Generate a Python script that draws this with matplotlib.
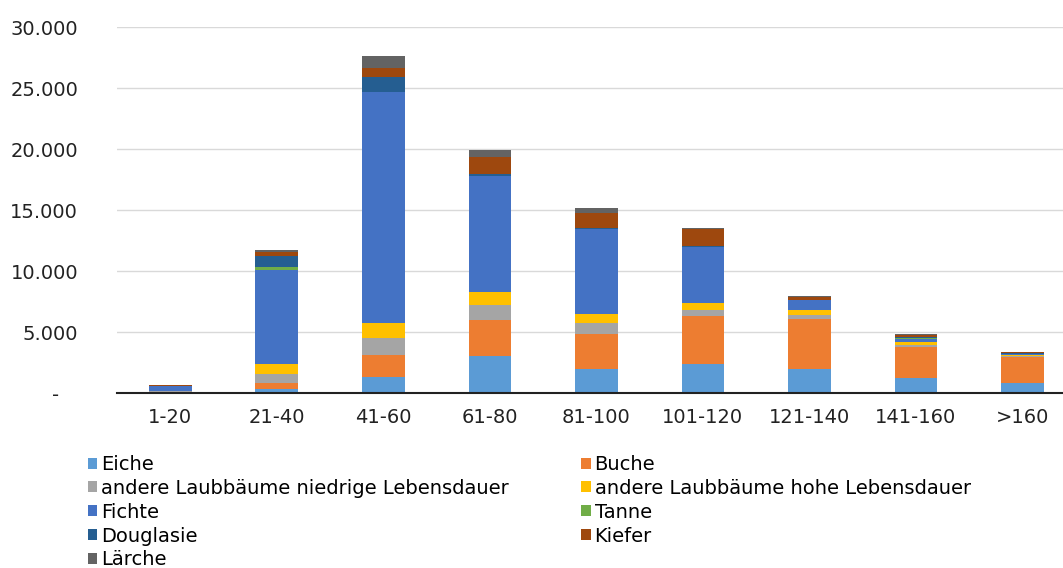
import matplotlib.pyplot as plt
import numpy as np
from matplotlib.patches import Patch
from matplotlib.ticker import FuncFormatter

# age classes (years)
categories = ["1-20", "21-40", "41-60", "61-80", "81-100", "101-120", "121-140", "141-160", ">160"]

# area per species group, stacked bottom to top
eiche       = [20,  300, 1300, 3000, 1950, 2400, 2000, 1250,  850]
buche       = [30,  500, 1800, 3000, 2900, 3900, 4050, 2500, 2100]
laub_niedr  = [80,  800, 1400, 1250,  900,  500,  350,  200,  100]
laub_hoch   = [20,  800, 1250, 1050,  750,  600,  450,  250,  100]
fichte      = [430, 7700, 18950, 9500, 6950, 4600, 750,  250,   50]
tanne       = [0,   250,    0,    0,    0,    0,   0,   30,   20]
douglasie   = [30,  900, 1250,  200,  100,   50,   50,  100,   30]
kiefer      = [20,  300,  700, 1400, 1250, 1400,  250,  200,  100]
laerche     = [10,  150, 1000,  550,  400,   50,   50,  100,   50]

series = [
    ("Eiche", eiche, "#5B9BD5"),
    ("Buche", buche, "#ED7D31"),
    ("andere Laubbäume niedrige Lebensdauer", laub_niedr, "#A5A5A5"),
    ("andere Laubbäume hohe Lebensdauer", laub_hoch, "#FFC000"),
    ("Fichte", fichte, "#4472C4"),
    ("Tanne", tanne, "#70AD47"),
    ("Douglasie", douglasie, "#255E91"),
    ("Kiefer", kiefer, "#9E480E"),
    ("Lärche", laerche, "#636363"),
]

fig = plt.figure(figsize=(10.63, 5.68), dpi=100)
ax = fig.add_axes([0.110, 0.308, 0.890, 0.644])

x = np.arange(len(categories))
bottom = np.zeros(len(categories))
for name, vals, col in series:
    ax.bar(x, vals, width=0.4, bottom=bottom, color=col, label=name, zorder=3)
    bottom += np.array(vals)

ax.set_xlim(-0.5, 8.38)
ax.set_ylim(0, 30000)
ax.set_yticks(range(0, 30001, 5000))

def fmt(v, pos):
    if v == 0:
        return "-   "
    return f"{int(v):,}".replace(",", ".")

ax.yaxis.set_major_formatter(FuncFormatter(fmt))
ax.set_xticks(x)
ax.set_xticklabels(categories)
ax.tick_params(axis="both", length=0, labelsize=14, colors="#222222")
ax.tick_params(axis="y", pad=28)
ax.tick_params(axis="x", pad=11)

ax.grid(axis="y", color="#D9D9D9", linewidth=1, zorder=0)
for s in ["top", "right", "left"]:
    ax.spines[s].set_visible(False)
ax.spines["bottom"].set_color("#222222")
ax.spines["bottom"].set_linewidth(1.5)
ax.spines["bottom"].set_zorder(4)

# legend row-major like the original: reorder for column-major filling
handles = [Patch(facecolor=c, label=n) for n, _, c in series]
order = [0, 2, 4, 6, 8, 1, 3, 5, 7]
fig.legend([handles[i] for i in order], [handles[i].get_label() for i in order],
           ncol=2, loc="upper left", bbox_to_anchor=(0.0825, 0.199),
           frameon=False, fontsize=14, handlelength=0.5, handleheight=0.5,
           handletextpad=0.2, labelspacing=0.25, columnspacing=3.7,
           borderaxespad=0, borderpad=0)

fig.savefig("out.png", dpi=100)
